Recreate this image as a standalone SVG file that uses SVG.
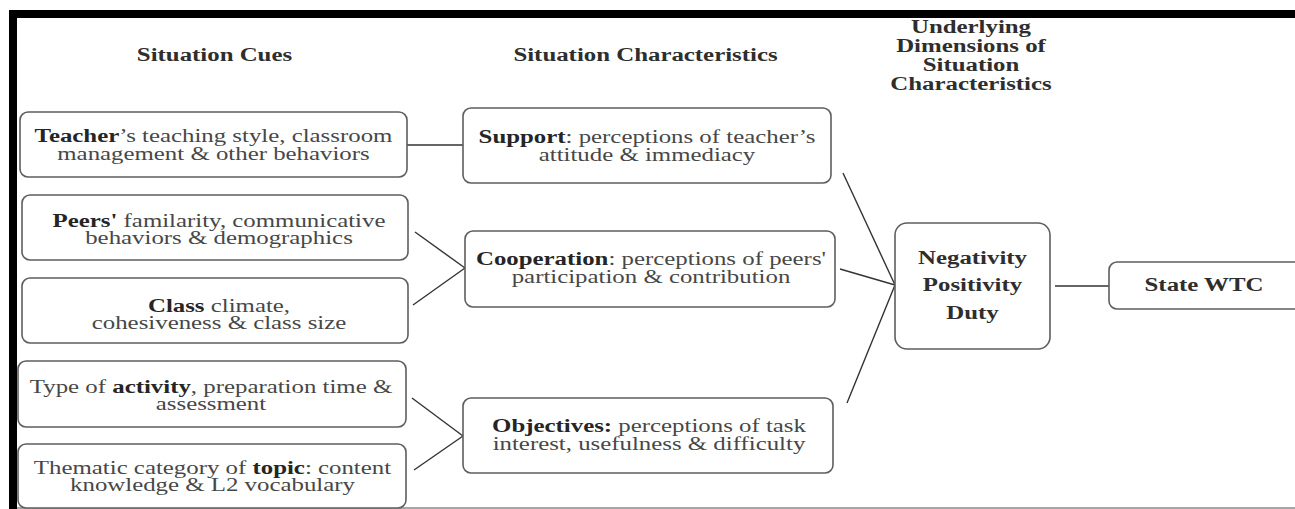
<svg xmlns="http://www.w3.org/2000/svg" width="1295" height="509" viewBox="0 0 1295 509">
<style>
.box{fill:#fff;stroke:#5e5e5e;stroke-width:1.6}
.t{font-family:"Liberation Serif","Times New Roman",serif;font-size:18px;fill:#474747;text-anchor:middle}
.b{font-weight:bold;fill:#252525}
.h{font-family:"Liberation Serif","Times New Roman",serif;font-size:18px;font-weight:bold;fill:#2e2e2e;text-anchor:middle}
.c{stroke:#333;stroke-width:1.4;fill:none}
</style>
<rect x="0" y="0" width="1295" height="509" fill="#fff"/>
<g id="frame">
<rect x="9" y="10" width="1286" height="8" fill="#000"/>
<rect x="9" y="10" width="8" height="499" fill="#000"/>
<line x1="17" y1="508" x2="1295" y2="508" stroke="#8a8a8a" stroke-width="1.5"/>
</g>
<g id="headers">
<text class="h" transform="translate(214.5,61) scale(1.38,1)">Situation Cues</text>
<text class="h" transform="translate(645.5,61) scale(1.38,1)">Situation Characteristics</text>
<text class="h" transform="translate(971,33) scale(1.38,1)"><tspan x="0" y="0">Underlying</tspan><tspan x="0" y="19">Dimensions of</tspan><tspan x="0" y="38">Situation</tspan><tspan x="0" y="57">Characteristics</tspan></text>
</g>
<g id="connectors">
<line class="c" x1="407" y1="145" x2="463" y2="145"/>
<line class="c" x1="415" y1="232" x2="465" y2="268"/>
<line class="c" x1="413" y1="305" x2="465" y2="268"/>
<line class="c" x1="412" y1="398" x2="463" y2="436"/>
<line class="c" x1="414" y1="470" x2="463" y2="436"/>
<line class="c" x1="843" y1="173" x2="895" y2="285"/>
<line class="c" x1="840" y1="269" x2="895" y2="285"/>
<line class="c" x1="847" y1="403" x2="895" y2="285"/>
<line class="c" x1="1055" y1="286" x2="1109" y2="286"/>
</g>
<g id="teacher">
<rect class="box" x="20" y="112" width="387" height="65" rx="8"/>
<text class="t" transform="translate(213.5,142) scale(1.38,1)"><tspan x="0" y="0"><tspan class="b">Teacher</tspan>’s teaching style, classroom</tspan><tspan x="0" y="18">management &amp; other behaviors</tspan></text>
</g>
<g id="peers">
<rect class="box" x="22" y="195" width="386" height="65" rx="8"/>
<text class="t" transform="translate(219,226.5) scale(1.38,1)"><tspan x="0" y="0"><tspan class="b">Peers'</tspan> familarity, communicative</tspan><tspan x="0" y="18">behaviors &amp; demographics</tspan></text>
</g>
<g id="class">
<rect class="box" x="22" y="278" width="386" height="65" rx="8"/>
<text class="t" transform="translate(219,311.5) scale(1.38,1)"><tspan x="0" y="0"><tspan class="b">Class</tspan> climate,</tspan><tspan x="0" y="18">cohesiveness &amp; class size</tspan></text>
</g>
<g id="activity">
<rect class="box" x="18" y="361" width="388" height="66" rx="8"/>
<text class="t" transform="translate(211,393) scale(1.38,1)"><tspan x="0" y="0">Type of <tspan class="b">activity</tspan>, preparation time &amp;</tspan><tspan x="0" y="17.5">assessment</tspan></text>
</g>
<g id="topic">
<rect class="box" x="18" y="444" width="388" height="64" rx="8"/>
<text class="t" transform="translate(212.5,473.5) scale(1.38,1)"><tspan x="0" y="0">Thematic category of <tspan class="b">topic</tspan>: content</tspan><tspan x="0" y="18">knowledge &amp; L2 vocabulary</tspan></text>
</g>
<g id="support">
<rect class="box" x="463" y="108" width="368" height="75" rx="8"/>
<text class="t" transform="translate(647,143) scale(1.38,1)"><tspan x="0" y="0"><tspan class="b">Support</tspan>: perceptions of teacher’s</tspan><tspan x="0" y="18.5">attitude &amp; immediacy</tspan></text>
</g>
<g id="cooperation">
<rect class="box" x="465" y="231" width="370" height="76" rx="8"/>
<text class="t" transform="translate(651,265) scale(1.38,1)"><tspan x="0" y="0"><tspan class="b">Cooperation</tspan>: perceptions of peers'</tspan><tspan x="0" y="18">participation &amp; contribution</tspan></text>
</g>
<g id="objectives">
<rect class="box" x="463" y="398" width="370" height="75" rx="8"/>
<text class="t" transform="translate(649,431.5) scale(1.38,1)"><tspan x="0" y="0"><tspan class="b">Objectives:</tspan> perceptions of task</tspan><tspan x="0" y="18.5">interest, usefulness &amp; difficulty</tspan></text>
</g>
<g id="dimensions">
<rect class="box" x="895" y="223" width="155" height="126" rx="12"/>
<text class="h" transform="translate(972.5,264) scale(1.38,1)"><tspan x="0" y="0">Negativity</tspan><tspan x="0" y="27.5">Positivity</tspan><tspan x="0" y="55">Duty</tspan></text>
</g>
<g id="statewtc">
<path class="box" d="M1298,262 H1117 A8,8 0 0 0 1109,270 V301 A8,8 0 0 0 1117,309 H1298"/>
<text class="h" transform="translate(1204,291) scale(1.38,1)">State WTC</text>
</g>
</svg>
